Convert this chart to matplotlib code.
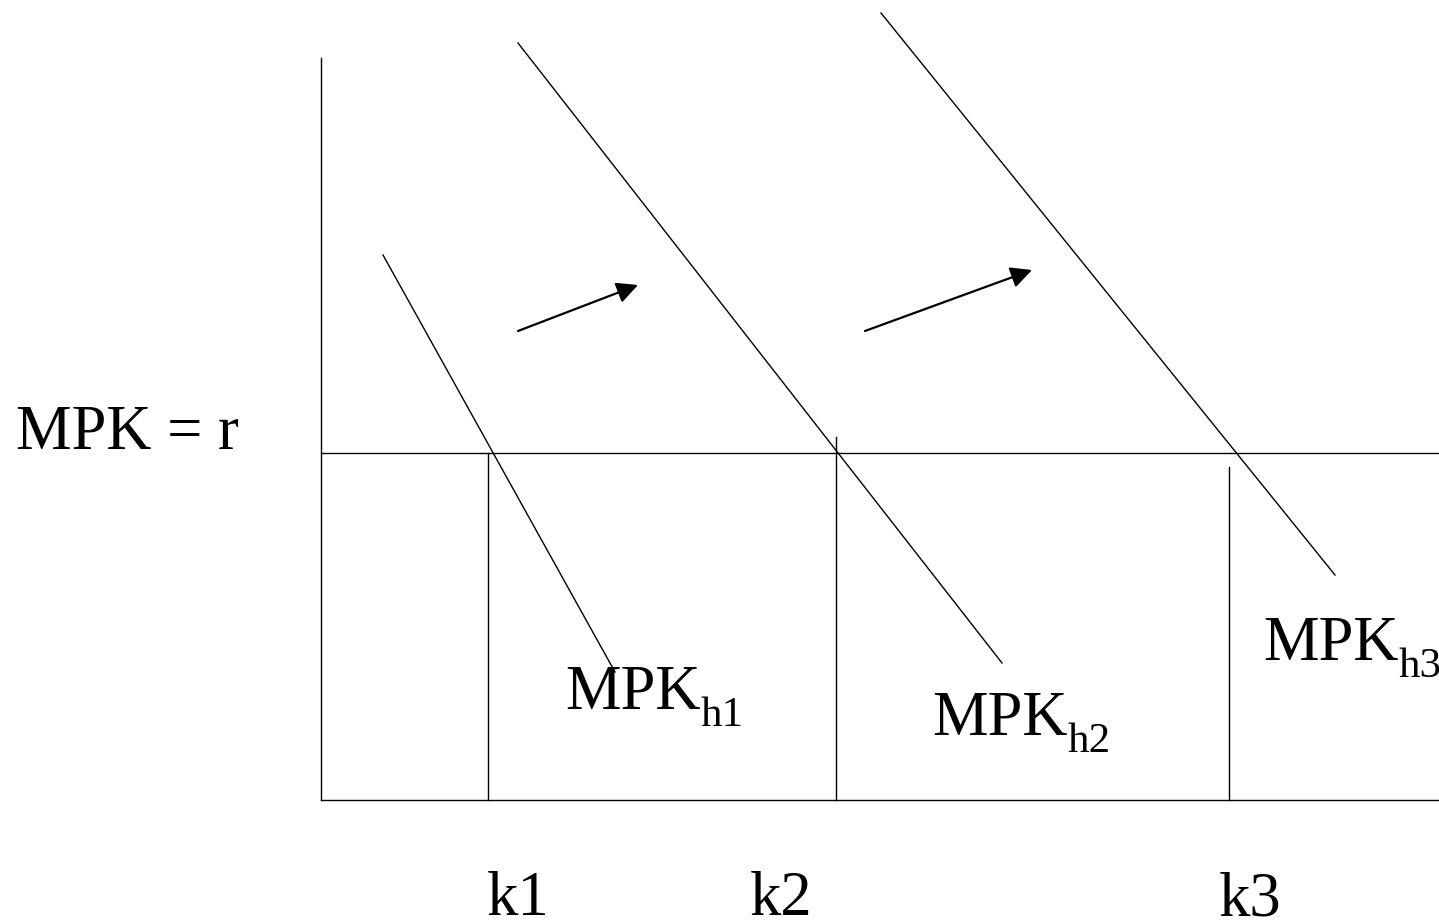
import matplotlib.pyplot as plt

plt.rcParams['font.family'] = ['Liberation Serif', 'DejaVu Serif']

# diagram coordinates (pixel space, y down)
axis_x = 321
axis_top = 58
axis_bottom = 800
axis_right = 1439
r_level = 453

# capital stock levels k1, k2, k3 and the top of their drop lines
k_labels = ['k1', 'k2', 'k3']
k_values = [488, 836, 1229]
k_tops = [453, 437, 467]
k_label_x = [487, 750, 1219]

# MPK curves: (x0, y0) -> (x1, y1)
mpk_names = ['h1', 'h2', 'h3']
mpk_start = [(383, 255), (518, 43), (881, 13)]
mpk_end = [(615, 672), (1002, 663), (1335, 575)]
mpk_label_pos = [(565, 709), (932, 735), (1263, 660)]

# shift arrows
arrow_start = [(518, 331), (865, 331)]
arrow_end = [(638, 285), (1032, 270)]

fig = plt.figure(figsize=(14.39, 9.23), dpi=100)
ax = fig.add_axes([0, 0, 1, 1])
ax.set_xlim(0, 1439)
ax.set_ylim(923, 0)
ax.axis('off')

lw = 1.0
ax.plot([axis_x, axis_x], [axis_top, axis_bottom], color='black', lw=lw)
ax.plot([axis_x, axis_right], [axis_bottom, axis_bottom], color='black', lw=lw)
ax.plot([axis_x, axis_right], [r_level, r_level], color='black', lw=lw)

for k, top in zip(k_values, k_tops):
    ax.plot([k, k], [top, axis_bottom], color='black', lw=lw)

for (x0, y0), (x1, y1) in zip(mpk_start, mpk_end):
    ax.plot([x0, x1], [y0, y1], color='black', lw=lw)

for (x0, y0), (x1, y1) in zip(arrow_start, arrow_end):
    ax.annotate('', xy=(x1, y1), xytext=(x0, y0),
                arrowprops=dict(arrowstyle='-|>', color='black', lw=1.6,
                                mutation_scale=32, shrinkA=0, shrinkB=0))

fs = 45
sub_fs = 31
ax.text(16, 449, 'MPK = r', fontsize=fs, ha='left', va='baseline')

renderer = fig.canvas.get_renderer()
for name, (x, y) in zip(mpk_names, mpk_label_pos):
    t = ax.text(x, y, 'MPK', fontsize=fs, ha='left', va='baseline')
    bb = t.get_window_extent(renderer=renderer)
    x_end = ax.transData.inverted().transform((bb.x1, bb.y0))[0]
    ax.text(x_end, y + 17, name, fontsize=sub_fs, ha='left', va='baseline')

for lab, x in zip(k_labels, k_label_x):
    ax.text(x, 915, lab, fontsize=fs, ha='left', va='baseline')

fig.savefig('out.png', dpi=100)
